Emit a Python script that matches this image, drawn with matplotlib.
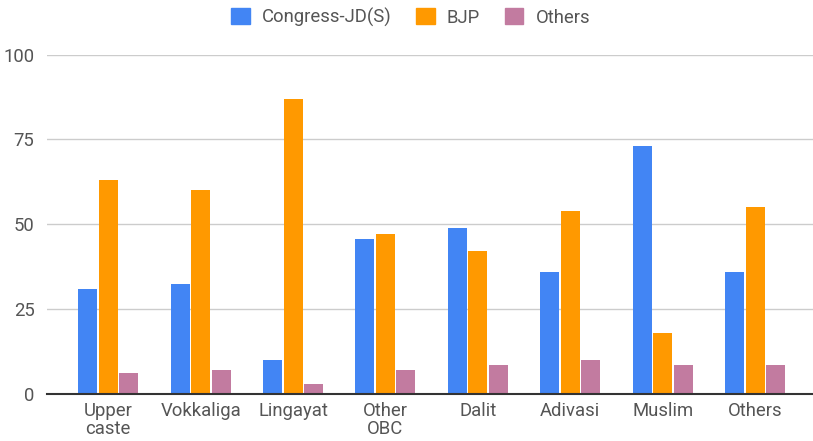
import numpy as np
import matplotlib.pyplot as plt
from matplotlib.patches import Patch

plt.rcParams['font.family'] = ['Roboto', 'DejaVu Sans']

# data
groups = ['Upper\ncaste', 'Vokkaliga', 'Lingayat', 'Other\nOBC', 'Dalit', 'Adivasi', 'Muslim', 'Others']
congress = [31, 32.5, 10, 45.5, 49, 36, 73, 36]
bjp = [63, 60, 87, 47, 42, 54, 18, 55]
others = [6, 7, 3, 7, 8.5, 10, 8.5, 8.5]

series = ['Congress-JD(S)', 'BJP', 'Others']
colors = ['#4285F4', '#FF9900', '#C27BA0']
txt = '#555555'
fs = 13.3

fig = plt.figure(figsize=(8.13, 4.41), dpi=100)
ax = fig.add_axes([0.0578, 0.1073, 0.9422, 0.7687])

x = np.arange(len(groups))
w = 0.206   # bar width
step = 0.222  # distance between bars in a group
for k, (vals, c) in enumerate(zip([congress, bjp, others], colors)):
    ax.bar(x + (k - 1) * step, vals, width=w, color=c, zorder=3)

ax.set_xlim(-0.663, 7.627)
ax.set_ylim(0, 100)
ax.set_yticks([0, 25, 50, 75, 100])
ax.set_xticks(x)
ax.set_xticklabels(groups, linespacing=1.0)
ax.tick_params(axis='both', length=0, labelsize=fs, colors=txt)
ax.tick_params(axis='y', pad=9)
ax.tick_params(axis='x', pad=6)

ax.grid(axis='y', color='#cccccc', lw=1, zorder=0)
for s in ['top', 'right', 'left']:
    ax.spines[s].set_visible(False)
ax.spines['bottom'].set_color('#333333')
ax.spines['bottom'].set_linewidth(1.5)
ax.spines['bottom'].set_zorder(4)

handles = [Patch(color=c, label=s) for c, s in zip(colors, series)]
leg = fig.legend(handles=handles, loc='center', bbox_to_anchor=(0.505, 0.961), ncol=3,
                 frameon=False, fontsize=fs, handlelength=1.0, handleheight=1.0,
                 handletextpad=0.65, columnspacing=1.35)
for t in leg.get_texts():
    t.set_color(txt)

fig.savefig('out.png', dpi=100)
